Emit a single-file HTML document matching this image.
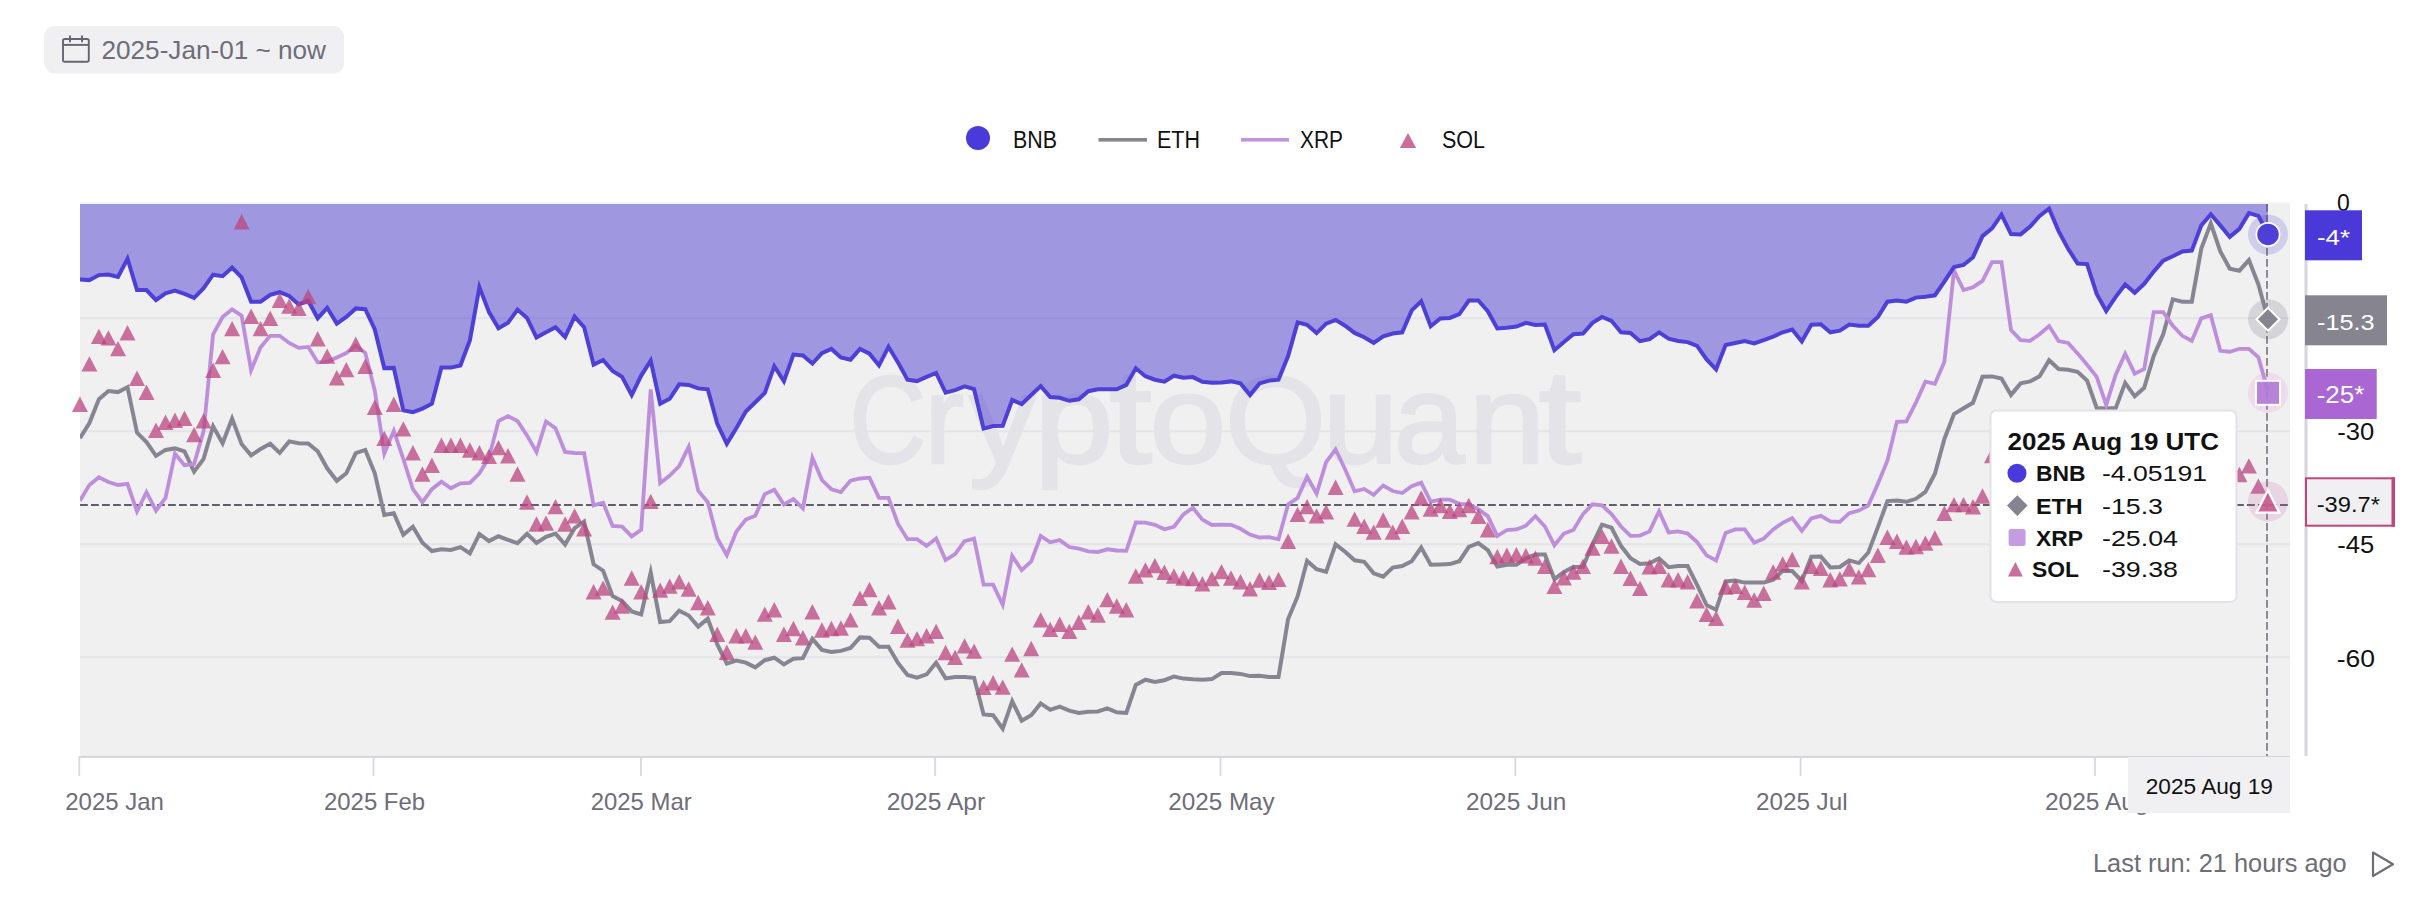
<!DOCTYPE html>
<html><head><meta charset="utf-8"><title>CryptoQuant chart</title>
<style>
html,body{margin:0;padding:0;background:#fff;}
body{width:2436px;height:900px;overflow:hidden;position:relative;font-family:"Liberation Sans", Arial, sans-serif;}
svg{position:absolute;left:0;top:0;}
text{font-family:"Liberation Sans", Arial, sans-serif;}
</style></head><body>
<svg width="2436" height="900" viewBox="0 0 2436 900">
<defs>
<clipPath id="plot"><rect x="80" y="204" width="2210" height="552"/></clipPath>
</defs>
<!-- date range button -->
<rect x="44" y="26" width="300" height="47.5" rx="11" fill="#f0f0f2"/>
<g fill="none" stroke="#66656f" stroke-width="1.9">
<rect x="63" y="39" width="25.8" height="22.8" rx="1.8"/>
<line x1="63" y1="44.9" x2="88.8" y2="44.9"/>
<line x1="70" y1="36.2" x2="70" y2="41.6" stroke-linecap="round"/>
<line x1="82" y1="36.2" x2="82" y2="41.6" stroke-linecap="round"/>
</g>
<text x="101.5" y="59" font-size="25.5" fill="#6e6d78" textLength="224.5" lengthAdjust="spacingAndGlyphs">2025-Jan-01 ~ now</text>

<!-- legend -->
<circle cx="978" cy="138" r="12" fill="#4b3adb"/>
<text x="1013" y="148.3" font-size="23" fill="#111" textLength="44" lengthAdjust="spacingAndGlyphs">BNB</text>
<rect x="1098.5" y="138" width="48.5" height="3.6" fill="#85848f"/>
<text x="1157" y="148.3" font-size="23" fill="#111" textLength="43" lengthAdjust="spacingAndGlyphs">ETH</text>
<rect x="1241" y="138" width="48" height="3.6" fill="#c393dd"/>
<text x="1300" y="148.3" font-size="23" fill="#111" textLength="43" lengthAdjust="spacingAndGlyphs">XRP</text>
<path d="M1408,133 L1416.2,148 L1399.8,148 Z" fill="#ca6f9a"/>
<text x="1442" y="148.3" font-size="23" fill="#111" textLength="43" lengthAdjust="spacingAndGlyphs">SOL</text>

<!-- plot -->
<rect x="80" y="202" width="2210" height="2" fill="#f5f5f6"/>
<rect x="80" y="204" width="2210" height="552" fill="#f0f0f1"/>
<text y="462.5" fill="#e4e3e8" stroke="#e4e3e8" stroke-width="2.4" lengthAdjust="spacingAndGlyphs"><tspan x="849.4" font-size="125" textLength="76.7" lengthAdjust="spacingAndGlyphs">C</tspan><tspan x="924.4" font-size="126" textLength="39.5" lengthAdjust="spacingAndGlyphs">r</tspan><tspan x="969.1" font-size="126" textLength="66.9" lengthAdjust="spacingAndGlyphs">y</tspan><tspan x="1034.1" font-size="126" textLength="79.6" lengthAdjust="spacingAndGlyphs">p</tspan><tspan x="1109.4" font-size="133" textLength="42.5" lengthAdjust="spacingAndGlyphs">t</tspan><tspan x="1149.4" font-size="126" textLength="76.9" lengthAdjust="spacingAndGlyphs">o</tspan><tspan x="1224.9" font-size="125" textLength="101.1" lengthAdjust="spacingAndGlyphs">Q</tspan><tspan x="1322.4" font-size="126" textLength="76.1" lengthAdjust="spacingAndGlyphs">u</tspan><tspan x="1393.7" font-size="126" textLength="71.0" lengthAdjust="spacingAndGlyphs">a</tspan><tspan x="1468.2" font-size="126" textLength="77.1" lengthAdjust="spacingAndGlyphs">n</tspan><tspan x="1538.6" font-size="133" textLength="43.3" lengthAdjust="spacingAndGlyphs">t</tspan></text>
<g stroke="#e4e4e8" stroke-width="2">
<line x1="80" y1="318.2" x2="2290" y2="318.2"/>
<line x1="80" y1="431.2" x2="2290" y2="431.2"/>
<line x1="80" y1="544.2" x2="2290" y2="544.2"/>
<line x1="80" y1="657.2" x2="2290" y2="657.2"/>
</g>
<g clip-path="url(#plot)">
<line x1="2267" y1="204" x2="2267" y2="756" stroke="#8b8a96" stroke-width="2" stroke-dasharray="7.8 3.2"/>
<path d="M79.9,204 L79.9,279.4 L89.4,280.1 L98.9,275.1 L108.4,274.5 L118.0,276.9 L127.5,258.7 L137.0,290.1 L146.5,290.1 L156.0,300.0 L165.5,293.3 L175.0,290.5 L184.5,293.9 L194.1,297.8 L203.6,288.1 L213.1,274.7 L222.6,276.2 L232.1,267.6 L241.6,277.4 L251.1,301.7 L260.6,301.7 L270.2,294.8 L279.7,292.2 L289.2,295.9 L298.7,304.4 L308.2,300.8 L317.7,318.3 L327.2,307.8 L336.8,323.6 L346.3,317.0 L355.8,308.4 L365.3,309.2 L374.8,329.4 L384.3,368.1 L393.8,367.9 L403.3,410.3 L412.9,412.1 L422.4,408.6 L431.9,403.7 L441.4,367.6 L450.9,367.6 L460.4,365.5 L469.9,340.1 L479.4,287.1 L489.0,312.1 L498.5,328.2 L508.0,322.8 L517.5,309.6 L527.0,317.9 L536.5,337.5 L546.0,332.3 L555.5,327.3 L565.1,337.1 L574.6,316.6 L584.1,327.1 L593.6,364.7 L603.1,360.0 L612.6,371.0 L622.1,376.8 L631.7,395.1 L641.2,375.6 L650.7,360.6 L660.2,403.8 L669.7,398.8 L679.2,384.3 L688.7,384.9 L698.2,388.4 L707.8,389.3 L717.3,423.9 L726.8,443.8 L736.3,428.2 L745.8,411.5 L755.3,402.2 L764.8,393.0 L774.3,366.2 L783.9,381.3 L793.4,354.6 L802.9,355.4 L812.4,363.5 L821.9,353.1 L831.4,348.9 L840.9,357.4 L850.5,359.7 L860.0,349.0 L869.5,353.7 L879.0,365.4 L888.5,346.8 L898.0,362.4 L907.5,379.7 L917.0,381.1 L926.6,376.8 L936.1,373.0 L945.6,392.6 L955.1,390.1 L964.6,386.4 L974.1,389.2 L983.6,428.6 L993.1,426.1 L1002.7,425.9 L1012.2,400.0 L1021.7,404.1 L1031.2,395.0 L1040.7,386.1 L1050.2,397.1 L1059.7,397.8 L1069.3,400.8 L1078.8,399.3 L1088.3,391.2 L1097.8,389.2 L1107.3,389.2 L1116.8,389.2 L1126.3,384.9 L1135.8,368.3 L1145.4,376.2 L1154.9,379.7 L1164.4,381.7 L1173.9,375.7 L1183.4,377.7 L1192.9,377.1 L1202.4,381.8 L1211.9,382.8 L1221.5,382.6 L1231.0,381.4 L1240.5,383.4 L1250.0,395.0 L1259.5,383.4 L1269.0,380.6 L1278.5,379.7 L1288.1,356.0 L1297.6,322.4 L1307.1,324.8 L1316.6,333.1 L1326.1,323.6 L1335.6,319.9 L1345.1,325.7 L1354.6,332.9 L1364.2,337.2 L1373.7,342.9 L1383.2,336.4 L1392.7,333.5 L1402.2,332.3 L1411.7,310.4 L1421.2,301.3 L1430.7,326.2 L1440.3,318.4 L1449.8,317.9 L1459.3,314.1 L1468.8,300.5 L1478.3,300.5 L1487.8,311.2 L1497.3,328.5 L1506.9,327.7 L1516.4,326.5 L1525.9,322.8 L1535.4,324.9 L1544.9,324.5 L1554.4,350.2 L1563.9,342.1 L1573.4,334.3 L1583.0,333.5 L1592.5,322.8 L1602.0,317.0 L1611.5,320.8 L1621.0,332.3 L1630.5,332.9 L1640.0,341.2 L1649.5,339.2 L1659.1,332.4 L1668.6,338.7 L1678.1,341.0 L1687.6,342.1 L1697.1,345.9 L1706.6,359.5 L1716.1,369.4 L1725.6,345.0 L1735.2,343.0 L1744.7,341.0 L1754.2,343.5 L1763.7,340.1 L1773.2,336.6 L1782.7,332.3 L1792.2,329.6 L1801.8,341.4 L1811.3,324.8 L1820.8,324.3 L1830.3,332.3 L1839.8,330.6 L1849.3,324.5 L1858.8,325.7 L1868.3,325.7 L1877.9,317.0 L1887.4,301.7 L1896.9,300.5 L1906.4,301.7 L1915.9,297.6 L1925.4,296.8 L1934.9,295.3 L1944.4,281.5 L1954.0,267.0 L1963.5,265.0 L1973.0,257.2 L1982.5,236.1 L1992.0,228.3 L2001.5,214.7 L2011.0,234.1 L2020.6,234.4 L2030.1,226.6 L2039.6,215.9 L2049.1,208.6 L2058.6,231.1 L2068.1,248.8 L2077.6,263.6 L2087.1,264.1 L2096.7,293.9 L2106.2,311.0 L2115.7,296.8 L2125.2,284.5 L2134.7,292.7 L2144.2,283.8 L2153.7,271.6 L2163.2,260.7 L2172.8,256.3 L2182.3,251.4 L2191.8,250.6 L2201.3,225.4 L2210.8,214.3 L2220.3,225.4 L2229.8,236.9 L2239.4,228.9 L2248.9,213.1 L2258.4,215.9 L2267.9,234.1 L2267.9,204 Z" fill="rgb(78,62,207)" fill-opacity="0.5"/>
<line x1="80" y1="505" x2="2290" y2="505" stroke="#5f5e6b" stroke-width="1.8" stroke-dasharray="7.8 3.2"/>
<polyline points="79.9,438.3 89.4,423.0 98.9,399.3 108.4,391.0 118.0,392.1 127.5,387.2 137.0,432.6 146.5,442.1 156.0,455.9 165.5,449.9 175.0,448.4 184.5,451.3 194.1,471.6 203.6,458.9 213.1,426.3 222.6,443.3 232.1,418.6 241.6,444.1 251.1,455.4 260.6,449.0 270.2,443.8 279.7,452.9 289.2,441.4 298.7,443.3 308.2,443.5 317.7,451.3 327.2,468.3 336.8,480.8 346.3,473.3 355.8,453.1 365.3,449.9 374.8,473.3 384.3,515.0 393.8,513.3 403.3,534.8 412.9,526.7 422.4,542.7 431.9,551.0 441.4,549.2 450.9,550.0 460.4,547.1 469.9,553.4 479.4,534.0 489.0,541.1 498.5,536.3 508.0,539.8 517.5,543.1 527.0,533.9 536.5,543.0 546.0,536.9 555.5,533.6 565.1,544.6 574.6,528.2 584.1,521.6 593.6,564.3 603.1,570.7 612.6,596.1 622.1,601.0 631.7,611.4 641.2,614.4 650.7,572.5 660.2,622.1 669.7,621.2 679.2,610.7 688.7,615.5 698.2,626.6 707.8,618.7 717.3,644.4 726.8,663.5 736.3,660.6 745.8,662.6 755.3,667.3 764.8,660.2 774.3,657.7 783.9,664.4 793.4,658.8 802.9,658.2 812.4,638.9 821.9,649.9 831.4,652.0 840.9,650.9 850.5,648.0 860.0,637.4 869.5,637.8 879.0,646.7 888.5,646.7 898.0,662.9 907.5,674.9 917.0,677.6 926.6,674.4 936.1,662.7 945.6,678.4 955.1,677.0 964.6,676.9 974.1,677.8 983.6,714.4 993.1,715.2 1002.7,728.6 1012.2,701.2 1021.7,720.7 1031.2,715.2 1040.7,703.4 1050.2,709.9 1059.7,706.6 1069.3,710.6 1078.8,713.0 1088.3,711.8 1097.8,711.5 1107.3,708.3 1116.8,712.3 1126.3,712.9 1135.8,684.9 1145.4,679.7 1154.9,682.0 1164.4,680.2 1173.9,676.5 1183.4,678.6 1192.9,679.3 1202.4,679.7 1211.9,679.1 1221.5,673.0 1231.0,673.1 1240.5,673.9 1250.0,676.1 1259.5,675.7 1269.0,676.9 1278.5,676.9 1288.1,619.1 1297.6,596.4 1307.1,560.9 1316.6,569.3 1326.1,571.8 1335.6,544.4 1345.1,551.7 1354.6,560.3 1364.2,561.8 1373.7,573.3 1383.2,576.7 1392.7,567.6 1402.2,566.1 1411.7,561.2 1421.2,547.5 1430.7,564.7 1440.3,564.4 1449.8,564.1 1459.3,561.2 1468.8,546.8 1478.3,543.1 1487.8,550.2 1497.3,566.6 1506.9,564.7 1516.4,564.7 1525.9,558.3 1535.4,554.6 1544.9,554.6 1554.4,579.2 1563.9,571.9 1573.4,566.9 1583.0,566.7 1592.5,544.4 1602.0,524.6 1611.5,527.7 1621.0,545.9 1630.5,558.3 1640.0,563.9 1649.5,563.2 1659.1,558.4 1668.6,567.2 1678.1,566.1 1687.6,566.1 1697.1,584.9 1706.6,605.1 1716.1,609.7 1725.6,581.4 1735.2,580.5 1744.7,582.6 1754.2,582.6 1763.7,582.6 1773.2,579.7 1782.7,570.7 1792.2,571.0 1801.8,581.0 1811.3,556.8 1820.8,556.6 1830.3,567.4 1839.8,567.0 1849.3,560.4 1858.8,563.1 1868.3,552.5 1877.9,527.1 1887.4,501.1 1896.9,500.5 1906.4,501.8 1915.9,498.8 1925.4,491.9 1934.9,473.7 1944.4,439.0 1954.0,414.1 1963.5,408.3 1973.0,402.8 1982.5,376.8 1992.0,376.4 2001.5,378.5 2011.0,394.9 2020.6,383.4 2030.1,381.4 2039.6,376.2 2049.1,360.2 2058.6,369.0 2068.1,369.7 2077.6,371.9 2087.1,380.6 2096.7,408.0 2106.2,408.4 2115.7,408.1 2125.2,382.9 2134.7,396.3 2144.2,387.8 2153.7,356.0 2163.2,334.3 2172.8,299.3 2182.3,301.7 2191.8,301.7 2201.3,248.5 2210.8,223.4 2220.3,251.4 2229.8,268.8 2239.4,270.7 2248.9,260.1 2258.4,284.4 2267.9,319.0" fill="none" stroke="#878591" stroke-width="4" stroke-linejoin="miter" stroke-miterlimit="10"/>
<polyline points="79.9,500.8 89.4,484.9 98.9,477.2 108.4,482.0 118.0,485.0 127.5,483.9 137.0,511.4 146.5,492.2 156.0,510.6 165.5,497.9 175.0,453.7 184.5,465.2 194.1,464.1 203.6,431.1 213.1,334.3 222.6,317.0 232.1,309.3 241.6,315.6 251.1,370.2 260.6,347.3 270.2,335.8 279.7,335.8 289.2,343.0 298.7,347.9 308.2,346.9 317.7,362.3 327.2,361.8 336.8,357.4 346.3,353.1 355.8,345.5 365.3,353.1 374.8,390.7 384.3,453.6 393.8,430.8 403.3,458.9 412.9,489.2 422.4,502.2 431.9,489.2 441.4,481.7 450.9,488.2 460.4,483.4 469.9,482.9 479.4,473.3 489.0,457.4 498.5,421.0 508.0,416.1 517.5,421.0 527.0,435.4 536.5,452.0 546.0,421.5 555.5,428.2 565.1,452.0 574.6,453.0 584.1,453.1 593.6,505.4 603.1,502.7 612.6,525.9 622.1,526.7 631.7,536.4 641.2,529.7 650.7,389.4 660.2,483.2 669.7,475.6 679.2,466.1 688.7,446.8 698.2,490.7 707.8,502.2 717.3,538.3 726.8,555.1 736.3,531.7 745.8,519.6 755.3,515.8 764.8,494.1 774.3,489.7 783.9,504.5 793.4,499.0 802.9,508.4 812.4,457.7 821.9,480.0 831.4,489.2 840.9,492.0 850.5,480.6 860.0,478.5 869.5,477.7 879.0,497.9 888.5,497.9 898.0,523.9 907.5,539.2 917.0,539.2 926.6,545.9 936.1,538.4 945.6,560.1 955.1,554.2 964.6,541.2 974.1,538.6 983.6,584.6 993.1,584.6 1002.7,604.8 1012.2,556.0 1021.7,570.2 1031.2,561.4 1040.7,536.0 1050.2,542.3 1059.7,540.1 1069.3,547.0 1078.8,548.7 1088.3,551.3 1097.8,552.0 1107.3,549.3 1116.8,550.5 1126.3,550.8 1135.8,522.4 1145.4,522.7 1154.9,524.8 1164.4,529.3 1173.9,526.8 1183.4,514.4 1192.9,507.8 1202.4,519.6 1211.9,525.0 1221.5,524.7 1231.0,524.8 1240.5,528.8 1250.0,534.6 1259.5,537.5 1269.0,537.1 1278.5,539.3 1288.1,504.5 1297.6,497.9 1307.1,476.8 1316.6,493.6 1326.1,462.1 1335.6,449.4 1345.1,469.3 1354.6,491.3 1364.2,489.0 1373.7,494.8 1383.2,485.5 1392.7,491.0 1402.2,493.0 1411.7,486.1 1421.2,482.6 1430.7,501.6 1440.3,499.6 1449.8,499.7 1459.3,503.8 1468.8,504.2 1478.3,509.2 1487.8,516.1 1497.3,536.0 1506.9,530.0 1516.4,529.4 1525.9,525.7 1535.4,516.2 1544.9,526.5 1554.4,545.2 1563.9,533.5 1573.4,530.0 1583.0,514.1 1592.5,504.3 1602.0,505.4 1611.5,514.1 1621.0,526.5 1630.5,535.8 1640.0,535.6 1649.5,531.4 1659.1,511.3 1668.6,532.5 1678.1,531.4 1687.6,533.5 1697.1,542.1 1706.6,555.4 1716.1,560.5 1725.6,532.9 1735.2,529.4 1744.7,529.4 1754.2,542.6 1763.7,538.7 1773.2,529.4 1782.7,522.8 1792.2,518.1 1801.8,530.8 1811.3,518.4 1820.8,515.9 1830.3,521.3 1839.8,521.9 1849.3,513.2 1858.8,510.6 1868.3,505.4 1877.9,483.8 1887.4,460.7 1896.9,421.8 1906.4,421.3 1915.9,402.6 1925.4,381.7 1934.9,383.8 1944.4,361.8 1954.0,270.4 1963.5,290.0 1973.0,287.2 1982.5,280.9 1992.0,262.1 2001.5,262.1 2011.0,330.0 2020.6,340.1 2030.1,340.8 2039.6,334.3 2049.1,326.1 2058.6,341.0 2068.1,343.0 2077.6,353.4 2087.1,364.7 2096.7,376.8 2106.2,404.9 2115.7,374.8 2125.2,353.8 2134.7,373.6 2144.2,369.0 2153.7,312.1 2163.2,312.1 2172.8,325.7 2182.3,335.8 2191.8,340.9 2201.3,318.4 2210.8,315.2 2220.3,350.8 2229.8,351.7 2239.4,348.8 2248.9,348.8 2258.4,357.4 2267.9,390.7" fill="none" stroke="#bd8edb" stroke-width="3.8" stroke-linejoin="miter" stroke-miterlimit="10"/>
<polyline points="79.9,279.4 89.4,280.1 98.9,275.1 108.4,274.5 118.0,276.9 127.5,258.7 137.0,290.1 146.5,290.1 156.0,300.0 165.5,293.3 175.0,290.5 184.5,293.9 194.1,297.8 203.6,288.1 213.1,274.7 222.6,276.2 232.1,267.6 241.6,277.4 251.1,301.7 260.6,301.7 270.2,294.8 279.7,292.2 289.2,295.9 298.7,304.4 308.2,300.8 317.7,318.3 327.2,307.8 336.8,323.6 346.3,317.0 355.8,308.4 365.3,309.2 374.8,329.4 384.3,368.1 393.8,367.9 403.3,410.3 412.9,412.1 422.4,408.6 431.9,403.7 441.4,367.6 450.9,367.6 460.4,365.5 469.9,340.1 479.4,287.1 489.0,312.1 498.5,328.2 508.0,322.8 517.5,309.6 527.0,317.9 536.5,337.5 546.0,332.3 555.5,327.3 565.1,337.1 574.6,316.6 584.1,327.1 593.6,364.7 603.1,360.0 612.6,371.0 622.1,376.8 631.7,395.1 641.2,375.6 650.7,360.6 660.2,403.8 669.7,398.8 679.2,384.3 688.7,384.9 698.2,388.4 707.8,389.3 717.3,423.9 726.8,443.8 736.3,428.2 745.8,411.5 755.3,402.2 764.8,393.0 774.3,366.2 783.9,381.3 793.4,354.6 802.9,355.4 812.4,363.5 821.9,353.1 831.4,348.9 840.9,357.4 850.5,359.7 860.0,349.0 869.5,353.7 879.0,365.4 888.5,346.8 898.0,362.4 907.5,379.7 917.0,381.1 926.6,376.8 936.1,373.0 945.6,392.6 955.1,390.1 964.6,386.4 974.1,389.2 983.6,428.6 993.1,426.1 1002.7,425.9 1012.2,400.0 1021.7,404.1 1031.2,395.0 1040.7,386.1 1050.2,397.1 1059.7,397.8 1069.3,400.8 1078.8,399.3 1088.3,391.2 1097.8,389.2 1107.3,389.2 1116.8,389.2 1126.3,384.9 1135.8,368.3 1145.4,376.2 1154.9,379.7 1164.4,381.7 1173.9,375.7 1183.4,377.7 1192.9,377.1 1202.4,381.8 1211.9,382.8 1221.5,382.6 1231.0,381.4 1240.5,383.4 1250.0,395.0 1259.5,383.4 1269.0,380.6 1278.5,379.7 1288.1,356.0 1297.6,322.4 1307.1,324.8 1316.6,333.1 1326.1,323.6 1335.6,319.9 1345.1,325.7 1354.6,332.9 1364.2,337.2 1373.7,342.9 1383.2,336.4 1392.7,333.5 1402.2,332.3 1411.7,310.4 1421.2,301.3 1430.7,326.2 1440.3,318.4 1449.8,317.9 1459.3,314.1 1468.8,300.5 1478.3,300.5 1487.8,311.2 1497.3,328.5 1506.9,327.7 1516.4,326.5 1525.9,322.8 1535.4,324.9 1544.9,324.5 1554.4,350.2 1563.9,342.1 1573.4,334.3 1583.0,333.5 1592.5,322.8 1602.0,317.0 1611.5,320.8 1621.0,332.3 1630.5,332.9 1640.0,341.2 1649.5,339.2 1659.1,332.4 1668.6,338.7 1678.1,341.0 1687.6,342.1 1697.1,345.9 1706.6,359.5 1716.1,369.4 1725.6,345.0 1735.2,343.0 1744.7,341.0 1754.2,343.5 1763.7,340.1 1773.2,336.6 1782.7,332.3 1792.2,329.6 1801.8,341.4 1811.3,324.8 1820.8,324.3 1830.3,332.3 1839.8,330.6 1849.3,324.5 1858.8,325.7 1868.3,325.7 1877.9,317.0 1887.4,301.7 1896.9,300.5 1906.4,301.7 1915.9,297.6 1925.4,296.8 1934.9,295.3 1944.4,281.5 1954.0,267.0 1963.5,265.0 1973.0,257.2 1982.5,236.1 1992.0,228.3 2001.5,214.7 2011.0,234.1 2020.6,234.4 2030.1,226.6 2039.6,215.9 2049.1,208.6 2058.6,231.1 2068.1,248.8 2077.6,263.6 2087.1,264.1 2096.7,293.9 2106.2,311.0 2115.7,296.8 2125.2,284.5 2134.7,292.7 2144.2,283.8 2153.7,271.6 2163.2,260.7 2172.8,256.3 2182.3,251.4 2191.8,250.6 2201.3,225.4 2210.8,214.3 2220.3,225.4 2229.8,236.9 2239.4,228.9 2248.9,213.1 2258.4,215.9 2267.9,234.1" fill="none" stroke="#4e3fd7" stroke-width="4" stroke-linejoin="miter" stroke-miterlimit="10"/>
</g>
<g fill="#bb457e" fill-opacity="0.75"><path d="M79.9,396.6L87.9,412.0L71.9,412.0Z"/><path d="M89.4,356.2L97.4,371.6L81.4,371.6Z"/><path d="M98.9,328.7L106.9,344.1L90.9,344.1Z"/><path d="M108.4,330.2L116.4,345.6L100.4,345.6Z"/><path d="M118.0,340.9L126.0,356.3L110.0,356.3Z"/><path d="M127.5,325.0L135.5,340.4L119.5,340.4Z"/><path d="M137.0,370.6L145.0,386.0L129.0,386.0Z"/><path d="M146.5,384.5L154.5,399.9L138.5,399.9Z"/><path d="M156.0,422.6L164.0,438.0L148.0,438.0Z"/><path d="M165.5,414.5L173.5,429.9L157.5,429.9Z"/><path d="M175.0,412.5L183.0,427.9L167.0,427.9Z"/><path d="M184.5,410.5L192.5,425.9L176.5,425.9Z"/><path d="M194.1,426.9L202.1,442.3L186.1,442.3Z"/><path d="M203.6,413.1L211.6,428.5L195.6,428.5Z"/><path d="M213.1,362.5L221.1,377.9L205.1,377.9Z"/><path d="M222.6,348.9L230.6,364.3L214.6,364.3Z"/><path d="M232.1,320.9L240.1,336.3L224.1,336.3Z"/><path d="M241.6,214.0L249.6,229.4L233.6,229.4Z"/><path d="M251.1,308.5L259.1,323.9L243.1,323.9Z"/><path d="M260.6,320.9L268.6,336.3L252.6,336.3Z"/><path d="M270.2,310.5L278.2,325.9L262.2,325.9Z"/><path d="M279.7,292.6L287.7,308.0L271.7,308.0Z"/><path d="M289.2,298.4L297.2,313.8L281.2,313.8Z"/><path d="M298.7,300.7L306.7,316.1L290.7,316.1Z"/><path d="M308.2,288.9L316.2,304.3L300.2,304.3Z"/><path d="M317.7,331.0L325.7,346.4L309.7,346.4Z"/><path d="M327.2,348.4L335.2,363.8L319.2,363.8Z"/><path d="M336.8,370.0L344.8,385.4L328.8,385.4Z"/><path d="M346.3,361.9L354.3,377.3L338.3,377.3Z"/><path d="M355.8,336.5L363.8,351.9L347.8,351.9Z"/><path d="M365.3,358.5L373.3,373.9L357.3,373.9Z"/><path d="M374.8,399.5L382.8,414.9L366.8,414.9Z"/><path d="M384.3,430.7L392.3,446.1L376.3,446.1Z"/><path d="M393.8,396.6L401.8,412.0L385.8,412.0Z"/><path d="M403.3,421.2L411.3,436.6L395.3,436.6Z"/><path d="M412.9,445.1L420.9,460.5L404.9,460.5Z"/><path d="M422.4,466.3L430.4,481.7L414.4,481.7Z"/><path d="M431.9,457.6L439.9,473.0L423.9,473.0Z"/><path d="M441.4,437.6L449.4,453.0L433.4,453.0Z"/><path d="M450.9,437.6L458.9,453.0L442.9,453.0Z"/><path d="M460.4,437.6L468.4,453.0L452.4,453.0Z"/><path d="M469.9,442.3L477.9,457.7L461.9,457.7Z"/><path d="M479.4,445.1L487.4,460.5L471.4,460.5Z"/><path d="M489.0,448.6L497.0,464.0L481.0,464.0Z"/><path d="M498.5,439.9L506.5,455.3L490.5,455.3Z"/><path d="M508.0,448.0L516.0,463.4L500.0,463.4Z"/><path d="M517.5,466.3L525.5,481.7L509.5,481.7Z"/><path d="M527.0,494.3L535.0,509.7L519.0,509.7Z"/><path d="M536.5,516.3L544.5,531.7L528.5,531.7Z"/><path d="M546.0,515.4L554.0,530.8L538.0,530.8Z"/><path d="M555.5,498.9L563.5,514.3L547.5,514.3Z"/><path d="M565.1,516.3L573.1,531.7L557.1,531.7Z"/><path d="M574.6,508.2L582.6,523.6L566.6,523.6Z"/><path d="M584.1,521.2L592.1,536.6L576.1,536.6Z"/><path d="M593.6,584.1L601.6,599.5L585.6,599.5Z"/><path d="M603.1,580.4L611.1,595.8L595.1,595.8Z"/><path d="M612.6,604.4L620.6,619.8L604.6,619.8Z"/><path d="M622.1,598.3L630.1,613.7L614.1,613.7Z"/><path d="M631.7,570.3L639.7,585.7L623.7,585.7Z"/><path d="M641.2,584.1L649.2,599.5L633.2,599.5Z"/><path d="M650.7,493.7L658.7,509.1L642.7,509.1Z"/><path d="M660.2,582.4L668.2,597.8L652.2,597.8Z"/><path d="M669.7,578.4L677.7,593.8L661.7,593.8Z"/><path d="M679.2,574.0L687.2,589.4L671.2,589.4Z"/><path d="M688.7,581.3L696.7,596.7L680.7,596.7Z"/><path d="M698.2,594.8L706.2,610.2L690.2,610.2Z"/><path d="M707.8,600.0L715.8,615.4L699.8,615.4Z"/><path d="M717.3,626.6L725.3,642.0L709.3,642.0Z"/><path d="M726.8,644.5L734.8,659.9L718.8,659.9Z"/><path d="M736.3,628.1L744.3,643.5L728.3,643.5Z"/><path d="M745.8,628.1L753.8,643.5L737.8,643.5Z"/><path d="M755.3,634.4L763.3,649.8L747.3,649.8Z"/><path d="M764.8,606.4L772.8,621.8L756.8,621.8Z"/><path d="M774.3,602.1L782.3,617.5L766.3,617.5Z"/><path d="M783.9,626.6L791.9,642.0L775.9,642.0Z"/><path d="M793.4,620.8L801.4,636.2L785.4,636.2Z"/><path d="M802.9,630.1L810.9,645.5L794.9,645.5Z"/><path d="M812.4,604.1L820.4,619.5L804.4,619.5Z"/><path d="M821.9,622.3L829.9,637.7L813.9,637.7Z"/><path d="M831.4,620.8L839.4,636.2L823.4,636.2Z"/><path d="M840.9,620.3L848.9,635.7L832.9,635.7Z"/><path d="M850.5,612.2L858.5,627.6L842.5,627.6Z"/><path d="M860.0,590.5L868.0,605.9L852.0,605.9Z"/><path d="M869.5,581.8L877.5,597.2L861.5,597.2Z"/><path d="M879.0,600.0L887.0,615.4L871.0,615.4Z"/><path d="M888.5,594.0L896.5,609.4L880.5,609.4Z"/><path d="M898.0,618.5L906.0,633.9L890.0,633.9Z"/><path d="M907.5,632.4L915.5,647.8L899.5,647.8Z"/><path d="M917.0,630.9L925.0,646.3L909.0,646.3Z"/><path d="M926.6,628.1L934.6,643.5L918.6,643.5Z"/><path d="M936.1,623.7L944.1,639.1L928.1,639.1Z"/><path d="M945.6,644.8L953.6,660.2L937.6,660.2Z"/><path d="M955.1,649.7L963.1,665.1L947.1,665.1Z"/><path d="M964.6,638.2L972.6,653.6L956.6,653.6Z"/><path d="M974.1,643.4L982.1,658.8L966.1,658.8Z"/><path d="M983.6,679.7L991.6,695.1L975.6,695.1Z"/><path d="M993.1,675.0L1001.1,690.4L985.1,690.4Z"/><path d="M1002.7,679.4L1010.7,694.8L994.7,694.8Z"/><path d="M1012.2,646.4L1020.2,661.8L1004.2,661.8Z"/><path d="M1021.7,662.2L1029.7,677.6L1013.7,677.6Z"/><path d="M1031.2,640.8L1039.2,656.2L1023.2,656.2Z"/><path d="M1040.7,612.2L1048.7,627.6L1032.7,627.6Z"/><path d="M1050.2,621.7L1058.2,637.1L1042.2,637.1Z"/><path d="M1059.7,616.5L1067.7,631.9L1051.7,631.9Z"/><path d="M1069.3,623.7L1077.3,639.1L1061.3,639.1Z"/><path d="M1078.8,614.5L1086.8,629.9L1070.8,629.9Z"/><path d="M1088.3,604.1L1096.3,619.5L1080.3,619.5Z"/><path d="M1097.8,607.3L1105.8,622.7L1089.8,622.7Z"/><path d="M1107.3,591.9L1115.3,607.3L1099.3,607.3Z"/><path d="M1116.8,598.3L1124.8,613.7L1108.8,613.7Z"/><path d="M1126.3,602.1L1134.3,617.5L1118.3,617.5Z"/><path d="M1135.8,568.3L1143.8,583.7L1127.8,583.7Z"/><path d="M1145.4,562.2L1153.4,577.6L1137.4,577.6Z"/><path d="M1154.9,557.9L1162.9,573.3L1146.9,573.3Z"/><path d="M1164.4,564.5L1172.4,579.9L1156.4,579.9Z"/><path d="M1173.9,568.3L1181.9,583.7L1165.9,583.7Z"/><path d="M1183.4,570.3L1191.4,585.7L1175.4,585.7Z"/><path d="M1192.9,570.9L1200.9,586.3L1184.9,586.3Z"/><path d="M1202.4,576.1L1210.4,591.5L1194.4,591.5Z"/><path d="M1211.9,570.9L1219.9,586.3L1203.9,586.3Z"/><path d="M1221.5,563.9L1229.5,579.3L1213.5,579.3Z"/><path d="M1231.0,570.3L1239.0,585.7L1223.0,585.7Z"/><path d="M1240.5,574.0L1248.5,589.4L1232.5,589.4Z"/><path d="M1250.0,581.0L1258.0,596.4L1242.0,596.4Z"/><path d="M1259.5,572.3L1267.5,587.7L1251.5,587.7Z"/><path d="M1269.0,574.6L1277.0,590.0L1261.0,590.0Z"/><path d="M1278.5,571.7L1286.5,587.1L1270.5,587.1Z"/><path d="M1288.1,533.6L1296.1,549.0L1280.1,549.0Z"/><path d="M1297.6,506.7L1305.6,522.1L1289.6,522.1Z"/><path d="M1307.1,498.9L1315.1,514.3L1299.1,514.3Z"/><path d="M1316.6,508.2L1324.6,523.6L1308.6,523.6Z"/><path d="M1326.1,504.2L1334.1,519.6L1318.1,519.6Z"/><path d="M1335.6,479.6L1343.6,495.0L1327.6,495.0Z"/><path d="M1354.6,511.4L1362.6,526.8L1346.6,526.8Z"/><path d="M1364.2,518.6L1372.2,534.0L1356.2,534.0Z"/><path d="M1373.7,524.4L1381.7,539.8L1365.7,539.8Z"/><path d="M1383.2,512.3L1391.2,527.7L1375.2,527.7Z"/><path d="M1392.7,524.4L1400.7,539.8L1384.7,539.8Z"/><path d="M1402.2,518.6L1410.2,534.0L1394.2,534.0Z"/><path d="M1411.7,504.2L1419.7,519.6L1403.7,519.6Z"/><path d="M1421.2,490.3L1429.2,505.7L1413.2,505.7Z"/><path d="M1430.7,501.3L1438.7,516.7L1422.7,516.7Z"/><path d="M1440.3,497.8L1448.3,513.2L1432.3,513.2Z"/><path d="M1449.8,503.6L1457.8,519.0L1441.8,519.0Z"/><path d="M1459.3,501.9L1467.3,517.3L1451.3,517.3Z"/><path d="M1468.8,497.8L1476.8,513.2L1460.8,513.2Z"/><path d="M1478.3,508.5L1486.3,523.9L1470.3,523.9Z"/><path d="M1487.8,522.1L1495.8,537.5L1479.8,537.5Z"/><path d="M1497.3,548.9L1505.3,564.3L1489.3,564.3Z"/><path d="M1506.9,547.5L1514.9,562.9L1498.9,562.9Z"/><path d="M1516.4,546.9L1524.4,562.3L1508.4,562.3Z"/><path d="M1525.9,548.1L1533.9,563.5L1517.9,563.5Z"/><path d="M1535.4,550.4L1543.4,565.8L1527.4,565.8Z"/><path d="M1544.9,558.5L1552.9,573.9L1536.9,573.9Z"/><path d="M1554.4,578.7L1562.4,594.1L1546.4,594.1Z"/><path d="M1563.9,570.0L1571.9,585.4L1555.9,585.4Z"/><path d="M1573.4,564.3L1581.4,579.7L1565.4,579.7Z"/><path d="M1583.0,558.5L1591.0,573.9L1575.0,573.9Z"/><path d="M1592.5,540.3L1600.5,555.7L1584.5,555.7Z"/><path d="M1602.0,528.7L1610.0,544.1L1594.0,544.1Z"/><path d="M1611.5,538.3L1619.5,553.7L1603.5,553.7Z"/><path d="M1621.0,558.5L1629.0,573.9L1613.0,573.9Z"/><path d="M1630.5,570.6L1638.5,586.0L1622.5,586.0Z"/><path d="M1640.0,580.7L1648.0,596.1L1632.0,596.1Z"/><path d="M1649.5,559.1L1657.5,574.5L1641.5,574.5Z"/><path d="M1659.1,558.5L1667.1,573.9L1651.1,573.9Z"/><path d="M1668.6,572.1L1676.6,587.5L1660.6,587.5Z"/><path d="M1678.1,572.1L1686.1,587.5L1670.1,587.5Z"/><path d="M1687.6,574.1L1695.6,589.5L1679.6,589.5Z"/><path d="M1697.1,593.1L1705.1,608.5L1689.1,608.5Z"/><path d="M1706.6,606.7L1714.6,622.1L1698.6,622.1Z"/><path d="M1716.1,610.5L1724.1,625.9L1708.1,625.9Z"/><path d="M1725.6,579.3L1733.6,594.7L1717.6,594.7Z"/><path d="M1735.2,578.7L1743.2,594.1L1727.2,594.1Z"/><path d="M1744.7,584.5L1752.7,599.9L1736.7,599.9Z"/><path d="M1754.2,592.3L1762.2,607.7L1746.2,607.7Z"/><path d="M1763.7,585.6L1771.7,601.0L1755.7,601.0Z"/><path d="M1773.2,564.3L1781.2,579.7L1765.2,579.7Z"/><path d="M1782.7,556.2L1790.7,571.6L1774.7,571.6Z"/><path d="M1792.2,551.8L1800.2,567.2L1784.2,567.2Z"/><path d="M1801.8,574.1L1809.8,589.5L1793.8,589.5Z"/><path d="M1811.3,558.5L1819.3,573.9L1803.3,573.9Z"/><path d="M1820.8,560.5L1828.8,575.9L1812.8,575.9Z"/><path d="M1830.3,572.1L1838.3,587.5L1822.3,587.5Z"/><path d="M1839.8,571.2L1847.8,586.6L1831.8,586.6Z"/><path d="M1849.3,561.4L1857.3,576.8L1841.3,576.8Z"/><path d="M1858.8,569.2L1866.8,584.6L1850.8,584.6Z"/><path d="M1868.3,561.9L1876.3,577.3L1860.3,577.3Z"/><path d="M1877.9,547.5L1885.9,562.9L1869.9,562.9Z"/><path d="M1887.4,529.6L1895.4,545.0L1879.4,545.0Z"/><path d="M1896.9,533.6L1904.9,549.0L1888.9,549.0Z"/><path d="M1906.4,539.4L1914.4,554.8L1898.4,554.8Z"/><path d="M1915.9,538.8L1923.9,554.2L1907.9,554.2Z"/><path d="M1925.4,535.4L1933.4,550.8L1917.4,550.8Z"/><path d="M1934.9,530.2L1942.9,545.6L1926.9,545.6Z"/><path d="M1944.4,505.6L1952.4,521.0L1936.4,521.0Z"/><path d="M1954.0,496.9L1962.0,512.3L1946.0,512.3Z"/><path d="M1963.5,496.9L1971.5,512.3L1955.5,512.3Z"/><path d="M1973.0,499.0L1981.0,514.4L1965.0,514.4Z"/><path d="M1982.5,488.3L1990.5,503.7L1974.5,503.7Z"/><path d="M1992.0,447.8L2000.0,463.2L1984.0,463.2Z"/><path d="M2239.4,466.8L2247.4,482.2L2231.4,482.2Z"/><path d="M2248.9,458.2L2256.9,473.6L2240.9,473.6Z"/><path d="M2258.4,478.4L2266.4,493.8L2250.4,493.8Z"/></g>
<!-- markers -->
<circle cx="2268" cy="234.4" r="20" fill="#4e3fd7" fill-opacity="0.2"/>
<circle cx="2268" cy="234.4" r="11.6" fill="#4e3fd7" stroke="#fff" stroke-width="1.7"/>
<circle cx="2268" cy="319.2" r="20" fill="#878591" fill-opacity="0.26"/>
<path d="M2268,307.7 L2279.5,319.2 L2268,330.7 L2256.5,319.2 Z" fill="#85848f" stroke="#fff" stroke-width="2"/>
<circle cx="2268" cy="392.8" r="20" fill="#e08ad8" fill-opacity="0.2"/>
<rect x="2256" y="380.8" width="24" height="24" fill="#b27ad6" fill-opacity="0.92" stroke="#fff" stroke-width="2"/>
<circle cx="2268" cy="501.5" r="20" fill="#c864af" fill-opacity="0.2"/>
<path d="M2267.9,490.3 L2279.3,512.6 L2256.5,512.6 Z" fill="#c85a8c" fill-opacity="0.9" stroke="#fff" stroke-width="2.4" stroke-linejoin="miter"/>

<!-- right axis -->
<rect x="2304.5" y="204" width="3" height="552" fill="#d6d5dc"/>
<text x="2337" y="211" font-size="23" fill="#111">0</text>
<text x="2337.3" y="440" font-size="23" fill="#111" textLength="37" lengthAdjust="spacingAndGlyphs">-30</text>
<text x="2337.3" y="553.3" font-size="23" fill="#111" textLength="37" lengthAdjust="spacingAndGlyphs">-45</text>
<text x="2336.7" y="666.7" font-size="23" fill="#111" textLength="38.3" lengthAdjust="spacingAndGlyphs">-60</text>
<rect x="2305" y="210.3" width="57" height="50" fill="#4a38d9"/>
<text x="2317" y="244.7" font-size="22" fill="#fff" textLength="33" lengthAdjust="spacingAndGlyphs">-4*</text>
<rect x="2305" y="295.3" width="82" height="50" fill="#85848f"/>
<text x="2317" y="329.7" font-size="22.5" fill="#fff" textLength="57.7" lengthAdjust="spacingAndGlyphs">-15.3</text>
<rect x="2305" y="369" width="71.7" height="50" fill="#aa66d3"/>
<text x="2316.7" y="403" font-size="23" fill="#fff" textLength="47.7" lengthAdjust="spacingAndGlyphs">-25*</text>
<rect x="2306" y="478.3" width="88" height="47.4" fill="#f0f0f2" stroke="#c2447d" stroke-width="2"/>
<rect x="2391.5" y="477.3" width="3.5" height="49.4" fill="#c2447d"/>
<text x="2316.7" y="512.2" font-size="22.5" fill="#111" textLength="63.3" lengthAdjust="spacingAndGlyphs">-39.7*</text>

<!-- x axis -->
<rect x="79" y="756" width="2211" height="1.8" fill="#d2d2da"/>
<g stroke="#d8d8de" stroke-width="1.8">
<line x1="79.3" y1="756" x2="79.3" y2="776"/>
<line x1="373.5" y1="756" x2="373.5" y2="776"/>
<line x1="641" y1="756" x2="641" y2="776"/>
<line x1="935.2" y1="756" x2="935.2" y2="776"/>
<line x1="1220.5" y1="756" x2="1220.5" y2="776"/>
<line x1="1515.3" y1="756" x2="1515.3" y2="776"/>
<line x1="1800.6" y1="756" x2="1800.6" y2="776"/>
<line x1="2095" y1="756" x2="2095" y2="776"/>
</g>
<g font-size="24" fill="#6e6d78">
<text x="65.2" y="810.3" textLength="98.8" lengthAdjust="spacingAndGlyphs">2025 Jan</text>
<text x="324" y="810.3" textLength="101" lengthAdjust="spacingAndGlyphs">2025 Feb</text>
<text x="590.7" y="810.3" textLength="101" lengthAdjust="spacingAndGlyphs">2025 Mar</text>
<text x="886.7" y="810.3" textLength="98.5" lengthAdjust="spacingAndGlyphs">2025 Apr</text>
<text x="1168.3" y="810.3" textLength="106.4" lengthAdjust="spacingAndGlyphs">2025 May</text>
<text x="1466" y="810.3" textLength="100.3" lengthAdjust="spacingAndGlyphs">2025 Jun</text>
<text x="1756" y="810.3" textLength="91.6" lengthAdjust="spacingAndGlyphs">2025 Jul</text>
<text x="2045" y="810.3" textLength="103.5" lengthAdjust="spacingAndGlyphs">2025 Aug</text>
</g>
<rect x="2128" y="757" width="162" height="56" fill="#f0f0f2"/>
<text x="2145.7" y="794" font-size="22.5" fill="#111" textLength="127.3" lengthAdjust="spacingAndGlyphs">2025 Aug 19</text>

<!-- tooltip -->
<rect x="1990.5" y="410.5" width="246" height="191.5" rx="6" fill="#fff" stroke="#e2e2e8" stroke-width="2"/>
<text x="2007.6" y="450" font-size="24" font-weight="bold" fill="#111" textLength="211.4" lengthAdjust="spacingAndGlyphs">2025 Aug 19 UTC</text>
<circle cx="2017" cy="473.3" r="9.5" fill="#4b3adb"/>
<text x="2036" y="481" font-size="22" font-weight="bold" fill="#111" textLength="49.6" lengthAdjust="spacingAndGlyphs">BNB</text>
<text x="2102" y="481" font-size="22" fill="#111" textLength="105" lengthAdjust="spacingAndGlyphs">-4.05191</text>
<path d="M2017.3,495.3 L2027.6,505.6 L2017.3,515.9 L2007,505.6 Z" fill="#85848f"/>
<text x="2036" y="513.5" font-size="22" font-weight="bold" fill="#111" textLength="46.7" lengthAdjust="spacingAndGlyphs">ETH</text>
<text x="2102" y="513.5" font-size="22" fill="#111" textLength="61" lengthAdjust="spacingAndGlyphs">-15.3</text>
<rect x="2008.6" y="529" width="17" height="17" rx="2.5" fill="#c59ce0"/>
<text x="2036" y="546" font-size="22" font-weight="bold" fill="#111" textLength="47" lengthAdjust="spacingAndGlyphs">XRP</text>
<text x="2102" y="546" font-size="22" fill="#111" textLength="76" lengthAdjust="spacingAndGlyphs">-25.04</text>
<path d="M2015.4,562 L2022.8,576.5 L2008,576.5 Z" fill="#ca6f9a"/>
<text x="2032" y="577" font-size="22" font-weight="bold" fill="#111" textLength="47" lengthAdjust="spacingAndGlyphs">SOL</text>
<text x="2102" y="577" font-size="22" fill="#111" textLength="76" lengthAdjust="spacingAndGlyphs">-39.38</text>

<!-- footer -->
<text x="2093" y="872" font-size="25" fill="#6e6d78" textLength="253.7" lengthAdjust="spacingAndGlyphs">Last run: 21 hours ago</text>
<path d="M2373,852.5 L2393,864.2 L2373,876 Z" fill="none" stroke="#6e6d78" stroke-width="2.2" stroke-linejoin="round"/>
</svg>
</body></html>
